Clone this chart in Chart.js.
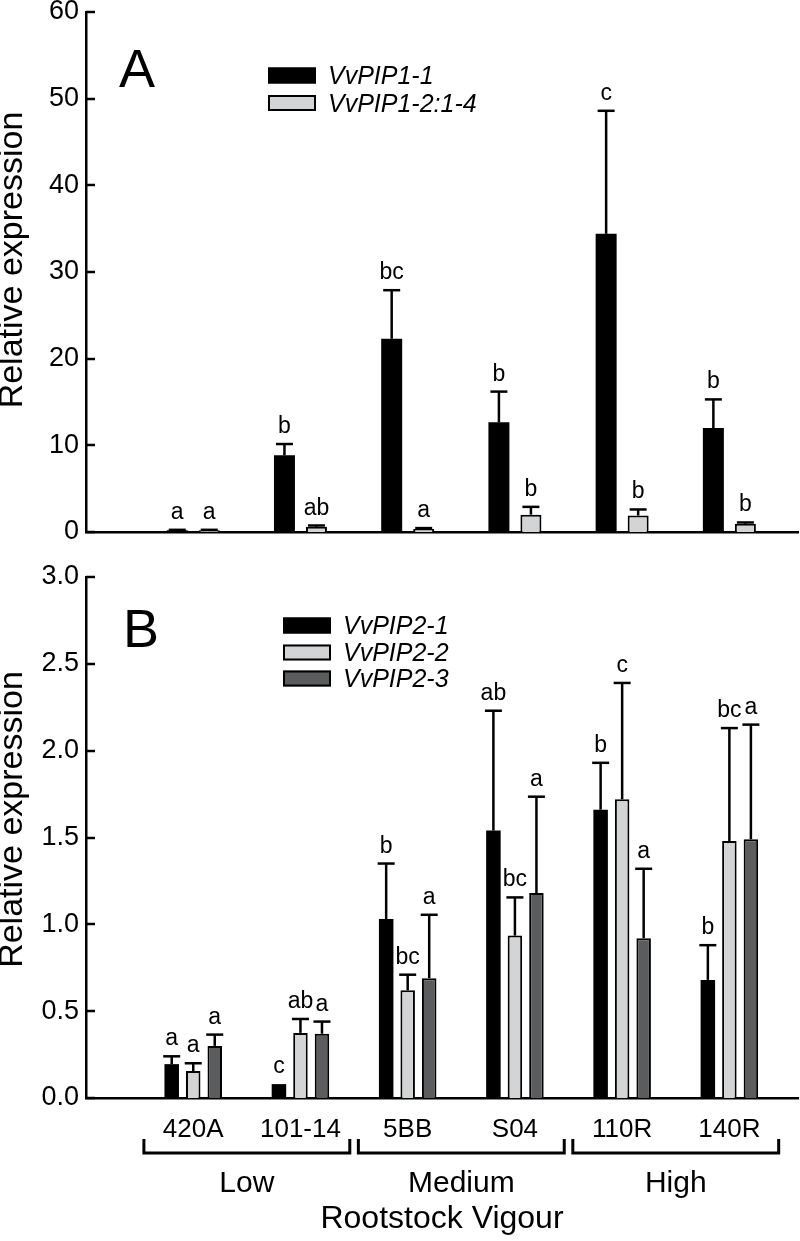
<!DOCTYPE html>
<html><head><meta charset="utf-8">
<script src="https://cdn.jsdelivr.net/npm/chart.js@4/dist/chart.umd.min.js"></script>
<style>
html,body{margin:0;padding:0;background:#fff;}
#wrap{position:relative;width:800px;height:1241px;overflow:hidden;}
#cA{position:absolute;left:0;top:0;width:800px;height:560px;}
#cB{position:absolute;left:0;top:560px;width:800px;height:681px;}
</style></head><body>
<div id="wrap">
<canvas id="cA" width="800" height="560"></canvas>
<canvas id="cB" width="800" height="681"></canvas>
</div>
<script>
// ---------- data ----------
const categories = ['420A', '101-14', '5BB', 'S04', '110R', '140R'];
const vigourGroups = ['Low', 'Medium', 'High'];
const vigourOfCategory = [0, 0, 1, 1, 2, 2];
const axisTitleY = 'Relative expression';
const axisTitleX = 'Rootstock Vigour';

// Panel A
const namesA = ['VvPIP1-1', 'VvPIP1-2:1-4'];
const pip11 = [0.2, 8.85, 22.3, 12.65, 34.4, 12.0];
const pip11Err = [0.05, 1.3, 5.6, 3.55, 14.2, 3.3];
const pip11Sig = ['a', 'b', 'bc', 'b', 'c', 'b'];
const pip12 = [0.2, 0.6, 0.35, 2.0, 1.9, 0.95];
const pip12Err = [0.05, 0.15, 0.1, 0.9, 0.7, 0.15];
const pip12Sig = ['a', 'ab', 'a', 'b', 'b', 'b'];
const ticksA = [0, 10, 20, 30, 40, 50, 60];

// Panel B
const namesB = ['VvPIP2-1', 'VvPIP2-2', 'VvPIP2-3'];
const pip21 = [0.195, 0.08, 1.03, 1.54, 1.66, 0.68];
const pip21Err = [0.045, 0, 0.32, 0.69, 0.27, 0.20];
const pip21Sig = ['a', 'c', 'b', 'ab', 'b', 'b'];
const pip22 = [0.155, 0.375, 0.62, 0.935, 1.72, 1.48];
const pip22Err = [0.045, 0.08, 0.09, 0.22, 0.67, 0.65];
const pip22Sig = ['a', 'ab', 'bc', 'bc', 'c', 'bc'];
const pip23 = [0.30, 0.37, 0.69, 1.18, 0.92, 1.49];
const pip23Err = [0.065, 0.07, 0.365, 0.555, 0.40, 0.66];
const pip23Sig = ['a', 'a', 'a', 'a', 'a', 'a'];
const ticksB = [0, 0.5, 1.0, 1.5, 2.0, 2.5, 3.0];

// ---------- style ----------
const FONT = "'Liberation Sans', Arial, Helvetica, sans-serif";
const BLACK = '#000000', LIGHT = '#d3d4d6', DARK = '#5b5c5e';
const X_MAX = 6.64;

function toXY(arr) { return arr.map((v, i) => ({ x: i + 1, y: v })); }

function xScaleOpts(showLabels, height, withTitle) {
  return {
    type: 'linear', min: 0, max: X_MAX, offset: false,
    grid: { display: false, drawTicks: false },
    border: { display: true, color: BLACK, width: 2.5 },
    ticks: {
      display: showLabels, stepSize: 1, autoSkip: false, maxRotation: 0, minRotation: 0,
      includeBounds: false, padding: 16, color: BLACK,
      font: { family: FONT, size: 26 },
      callback: v => (categories[v - 1] !== undefined ? categories[v - 1] : '')
    },
    title: withTitle ? {
      display: true, text: axisTitleX, color: BLACK,
      font: { family: FONT, size: 32, lineHeight: 1.2 }, padding: { top: 0, bottom: 3 }
    } : { display: false },
    afterFit: s => { s.height = height; s.paddingLeft = 0; s.paddingRight = 0; }
  };
}

function yScaleOpts(ticks, fmt) {
  return {
    type: 'linear', min: ticks[0], max: ticks[ticks.length - 1],
    grid: { display: false, drawTicks: false },
    border: { display: true, color: BLACK, width: 2.5 },
    ticks: {
      stepSize: ticks[1] - ticks[0], padding: 7, color: BLACK,
      font: { family: FONT, size: 27 }, callback: fmt
    },
    title: { display: false },
    afterFit: s => { s.width = 86; s.paddingTop = 0; s.paddingBottom = 0; }
  };
}

function yTitlePlugin(shift) {
  return {
    id: 'ytitle',
    afterDraw(chart) {
      const ctx = chart.ctx, a = chart.chartArea;
      ctx.save();
      ctx.translate(22, (a.top + a.bottom) / 2 + shift);
      ctx.rotate(-Math.PI / 2);
      ctx.fillStyle = BLACK;
      ctx.font = '34px ' + FONT;
      ctx.textAlign = 'center'; ctx.textBaseline = 'alphabetic';
      ctx.fillText(axisTitleY, 0, 0);
      ctx.restore();
    }
  };
}

function errorsPlugin(errs, sigs) {
  return {
    id: 'errs',
    afterDatasetsDraw(chart) {
      const ctx = chart.ctx, y = chart.scales.y;
      chart.data.datasets.forEach((ds, di) => {
        const meta = chart.getDatasetMeta(di);
        meta.data.forEach((bar, i) => {
          const e = errs[di][i];
          const top = y.getPixelForValue(ds.data[i].y + e);
          const x = bar.x;
          ctx.save();
          ctx.strokeStyle = BLACK;
          if (e > 0) {
            ctx.lineWidth = 2.5;
            ctx.beginPath(); ctx.moveTo(x, bar.y); ctx.lineTo(x, top); ctx.stroke();
            ctx.beginPath(); ctx.moveTo(x - 8.5, top); ctx.lineTo(x + 8.5, top); ctx.stroke();
          }
          ctx.fillStyle = BLACK;
          ctx.font = '23px ' + FONT;
          ctx.textAlign = 'center';
          ctx.textBaseline = 'alphabetic';
          ctx.fillText(sigs[di][i], x, Math.min(top, bar.y) - 11);
          ctx.restore();
        });
      });
    }
  };
}

const yTickMarks = {
  id: 'ytm',
  afterDraw(chart) {
    const ctx = chart.ctx, y = chart.scales.y, left = chart.chartArea.left;
    ctx.save();
    ctx.strokeStyle = BLACK; ctx.lineWidth = 2.5;
    y.ticks.forEach(t => {
      const py = Math.round(y.getPixelForValue(t.value));
      ctx.beginPath(); ctx.moveTo(left, py); ctx.lineTo(left + 9, py); ctx.stroke();
    });
    ctx.restore();
  }
};

function legendPlugin(names, colors, sx, tx, rows, letter, lx) {
  return {
    id: 'leg',
    afterDraw(chart) {
      const ctx = chart.ctx;
      ctx.save();
      names.forEach((n, i) => {
        const cy = rows[i];
        ctx.fillStyle = colors[i];
        ctx.fillRect(sx, cy - 8, 48, 16);
        ctx.strokeStyle = BLACK; ctx.lineWidth = 2;
        ctx.strokeRect(sx + 1, cy - 7, 46, 14);
        ctx.fillStyle = BLACK;
        ctx.font = 'italic 25px ' + FONT;
        ctx.textAlign = 'left'; ctx.textBaseline = 'alphabetic';
        ctx.fillText(n, tx, cy + 8.5);
      });
      ctx.font = '54px ' + FONT;
      ctx.fillText(letter, lx, 87);
      ctx.restore();
    }
  };
}

const bracketsPlugin = {
  id: 'brk',
  afterDraw(chart) {
    const ctx = chart.ctx, x = chart.scales.x;
    ctx.save();
    ctx.strokeStyle = BLACK; ctx.lineWidth = 3;
    ctx.fillStyle = BLACK;
    ctx.font = '30px ' + FONT;
    ctx.textAlign = 'center'; ctx.textBaseline = 'alphabetic';
    vigourGroups.forEach((g, gi) => {
      const idx = vigourOfCategory.map((v, i) => v === gi ? i + 1 : null).filter(v => v !== null);
      const l = x.getPixelForValue(idx[0] - 0.46);
      const r = x.getPixelForValue(idx[idx.length - 1] + 0.46);
      ctx.beginPath();
      ctx.moveTo(l, 579); ctx.lineTo(l, 593); ctx.lineTo(r, 593); ctx.lineTo(r, 579);
      ctx.stroke();
      ctx.fillText(g, (l + r) / 2, 632);
    });
    ctx.restore();
  }
};

// ---------- Panel A ----------
new Chart(document.getElementById('cA'), {
  type: 'bar',
  data: {
    datasets: [
      { label: namesA[0], data: toXY(pip11), backgroundColor: BLACK, borderColor: BLACK, borderWidth: 0 },
      { label: namesA[1], data: toXY(pip12), backgroundColor: LIGHT, borderColor: BLACK, borderWidth: 2 }
    ]
  },
  options: {
    responsive: false, animation: false, devicePixelRatio: 1,
    categoryPercentage: 0.597, barPercentage: 0.656,
    layout: { padding: { top: 12, right: 2, left: 0, bottom: 0 } },
    plugins: { legend: { display: false }, tooltip: { enabled: false } },
    scales: {
      x: xScaleOpts(false, 28, false),
      y: yScaleOpts(ticksA, v => String(v))
    }
  },
  plugins: [errorsPlugin([pip11Err, pip12Err], [pip11Sig, pip12Sig]), yTickMarks, yTitlePlugin(-12),
            legendPlugin(namesA, [BLACK, LIGHT], 268, 328, [75.5, 103], 'A', 119)]
});

// ---------- Panel B ----------
new Chart(document.getElementById('cB'), {
  type: 'bar',
  data: {
    datasets: [
      { label: namesB[0], data: toXY(pip21), backgroundColor: BLACK, borderColor: BLACK, borderWidth: 0 },
      { label: namesB[1], data: toXY(pip22), backgroundColor: LIGHT, borderColor: BLACK, borderWidth: 2 },
      { label: namesB[2], data: toXY(pip23), backgroundColor: DARK, borderColor: BLACK, borderWidth: 2 }
    ]
  },
  options: {
    responsive: false, animation: false, devicePixelRatio: 1,
    categoryPercentage: 0.602, barPercentage: 0.674,
    layout: { padding: { top: 17, right: 2, left: 0, bottom: 0 } },
    plugins: { legend: { display: false }, tooltip: { enabled: false } },
    scales: {
      x: xScaleOpts(true, 143, true),
      y: yScaleOpts(ticksB, v => Number(v).toFixed(1))
    }
  },
  plugins: [errorsPlugin([pip21Err, pip22Err, pip23Err], [pip21Sig, pip22Sig, pip23Sig]), yTickMarks, yTitlePlugin(-18),
            legendPlugin(namesB, [BLACK, LIGHT, DARK], 283, 343, [65.5, 92.5, 118.5], 'B', 123),
            bracketsPlugin]
});
</script>
</body></html>
